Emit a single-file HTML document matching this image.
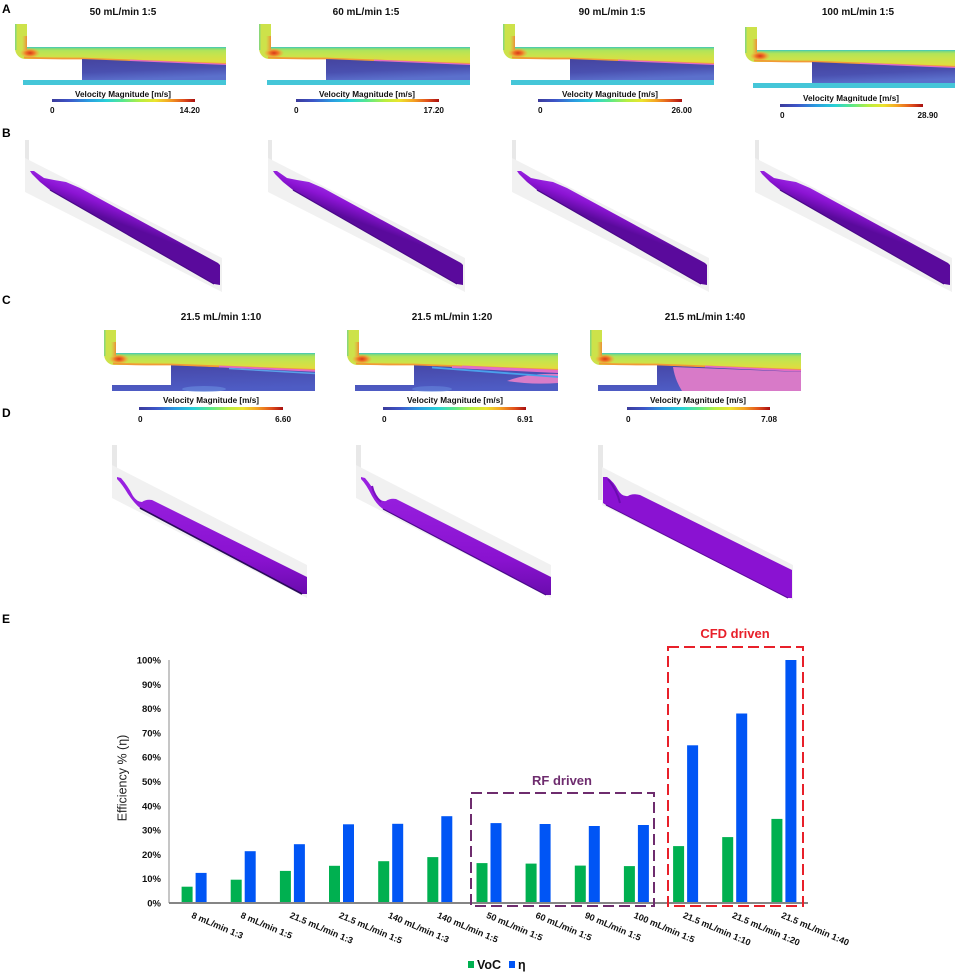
<!DOCTYPE html>
<html><head><meta charset="utf-8"><style>
html,body{margin:0;padding:0;background:#fff}
svg{display:block}
text{font-family:"Liberation Sans",Arial,sans-serif}
.b{font-weight:bold}
</style></head><body>
<svg width="955" height="972" viewBox="0 0 955 972" xmlns="http://www.w3.org/2000/svg">
<defs>
<linearGradient id="cmap" x1="0" y1="0" x2="1" y2="0">
<stop offset="0" stop-color="#3b3b9b"/><stop offset="0.12" stop-color="#3d55c8"/><stop offset="0.25" stop-color="#2a9be0"/><stop offset="0.38" stop-color="#28d0d8"/><stop offset="0.5" stop-color="#5ae88a"/><stop offset="0.62" stop-color="#b8ee40"/><stop offset="0.72" stop-color="#ebe52e"/><stop offset="0.82" stop-color="#f5a423"/><stop offset="0.92" stop-color="#e0501c"/><stop offset="1" stop-color="#a80f10"/>
</linearGradient>
<linearGradient id="gCh" gradientUnits="userSpaceOnUse" x1="0" y1="47" x2="0" y2="65">
<stop offset="0" stop-color="#38c4c8"/><stop offset="0.07" stop-color="#7ad880"/><stop offset="0.2" stop-color="#b2e558"/><stop offset="0.5" stop-color="#cbe34a"/><stop offset="0.8" stop-color="#dedd40"/><stop offset="1" stop-color="#ecc43a"/>
</linearGradient>
<radialGradient id="gHot">
<stop offset="0" stop-color="#d83818"/><stop offset="0.45" stop-color="#f07a28"/><stop offset="0.8" stop-color="#f0a838" stop-opacity="0.5"/><stop offset="1" stop-color="#f0a838" stop-opacity="0"/>
</radialGradient>
<linearGradient id="gPipe" x1="0" y1="0" x2="1" y2="0">
<stop offset="0" stop-color="#f0a040" stop-opacity="0"/><stop offset="1" stop-color="#f08030" stop-opacity="0.85"/>
</linearGradient>
<linearGradient id="gBlue" x1="0" y1="0" x2="0.3" y2="1">
<stop offset="0" stop-color="#45449f"/><stop offset="0.6" stop-color="#4a50b0"/><stop offset="1" stop-color="#5b70cc"/>
</linearGradient>
<linearGradient id="gBlueC" x1="0" y1="0" x2="0.2" y2="1">
<stop offset="0" stop-color="#4646a6"/><stop offset="1" stop-color="#4e5cc4"/>
</linearGradient>
<linearGradient id="gPur" gradientUnits="userSpaceOnUse" x1="130" y1="200" x2="121" y2="224">
<stop offset="0" stop-color="#a232ea"/><stop offset="0.5" stop-color="#8c14d4"/><stop offset="1" stop-color="#5a0a9c"/>
</linearGradient>
<linearGradient id="gPurD" x1="0" y1="0" x2="0" y2="1">
<stop offset="0" stop-color="#9a22e2"/><stop offset="0.7" stop-color="#8a12d0"/><stop offset="1" stop-color="#6a0cae"/>
</linearGradient>

<g id="up">
 <path d="M15,24 H27 V47 H226 V65 L82,59 L25,59 A10,11 0 0 1 15,48 Z" fill="#cde24a"/>
 <polygon points="27,47 226,47 226,65 82,59 27,59" fill="url(#gCh)"/>
 <rect x="15" y="24" width="1.5" height="26" fill="#8ad878"/>
 <rect x="22" y="36" width="5" height="14" fill="url(#gPipe)"/>
 <ellipse cx="30" cy="53" rx="10" ry="5" fill="url(#gHot)"/>
 <path d="M24,57.5 Q40,58.5 82,58.5 L226,64" stroke="#f29a35" stroke-width="1.8" fill="none"/>
 <path d="M130,60.5 L226,64.8" stroke="#e46cc4" stroke-width="1.8" fill="none"/>
</g>
<g id="lowA">
 <rect x="23" y="80" width="203" height="5" fill="#45c6d8"/>
 <polygon points="82,59 226,65 226,80 82,80" fill="url(#gBlue)"/>
</g>
<g id="bs">
 <rect x="25" y="140" width="4" height="50" fill="#e8e8e8"/>
 <polygon points="25,158 222,258 222,292 25,192" fill="#f1f1f1"/>
 <polygon points="30,171 34,171 44,178 54,180 66,182 80,188 218,263 220,265 220,285 214,284 50,190 40,182 32,174" fill="url(#gPur)"/>
 <path d="M50,190 L214,284" stroke="#4a0888" stroke-width="1.2"/>
</g>
</defs>

<rect width="955" height="972" fill="#fff"/>

<!-- Panel letters -->
<text class="b" x="2" y="13" font-size="12">A</text>
<text class="b" x="2" y="137" font-size="12">B</text>
<text class="b" x="2" y="304" font-size="12">C</text>
<text class="b" x="2" y="417" font-size="12">D</text>
<text class="b" x="2" y="623" font-size="12">E</text>

<!-- Panel A -->
<g font-size="10" class="b" text-anchor="middle" fill="#111">
<text x="123" y="15">50 mL/min 1:5</text>
<text x="366" y="15">60 mL/min 1:5</text>
<text x="612" y="15">90 mL/min 1:5</text>
<text x="858" y="15">100 mL/min 1:5</text>
</g>
<use href="#up"/><use href="#lowA"/>
<use href="#up" transform="translate(244,0)"/><use href="#lowA" transform="translate(244,0)"/>
<use href="#up" transform="translate(488,0)"/><use href="#lowA" transform="translate(488,0)"/>
<use href="#up" transform="translate(730,3)"/><use href="#lowA" transform="translate(730,3)"/>

<rect x="52" y="99" width="143" height="3" fill="url(#cmap)"/>
<rect x="296" y="99" width="143" height="3" fill="url(#cmap)"/>
<rect x="538" y="99" width="144" height="3" fill="url(#cmap)"/>
<rect x="780" y="104" width="143" height="3" fill="url(#cmap)"/>
<g font-size="8.2" class="b" fill="#111">
<text x="123" y="97" text-anchor="middle">Velocity Magnitude [m/s]</text>
<text x="367" y="97" text-anchor="middle">Velocity Magnitude [m/s]</text>
<text x="610" y="97" text-anchor="middle">Velocity Magnitude [m/s]</text>
<text x="851" y="101" text-anchor="middle">Velocity Magnitude [m/s]</text>
<text x="50" y="113">0</text><text x="200" y="113" text-anchor="end">14.20</text>
<text x="294" y="113">0</text><text x="444" y="113" text-anchor="end">17.20</text>
<text x="538" y="113">0</text><text x="692" y="113" text-anchor="end">26.00</text>
<text x="780" y="118">0</text><text x="938" y="118" text-anchor="end">28.90</text>
</g>

<!-- Panel B -->
<use href="#bs"/>
<use href="#bs" transform="translate(243,0)"/>
<use href="#bs" transform="translate(487,0)"/>
<use href="#bs" transform="translate(730,0)"/>

<!-- Panel C -->
<g font-size="10" class="b" text-anchor="middle" fill="#111">
<text x="221" y="320">21.5 mL/min 1:10</text>
<text x="452" y="320">21.5 mL/min 1:20</text>
<text x="705" y="320">21.5 mL/min 1:40</text>
</g>
<g transform="translate(89,306)">
 <path d="M23,79 H82 V58.5 L226,64.5 V85 H23 Z" fill="url(#gBlueC)"/>
 <ellipse cx="115" cy="83" rx="22" ry="3" fill="#6a8ee0" opacity="0.6"/>
 <use href="#up"/>
 <path d="M140,62.5 L226,67.5" stroke="#5aa0e8" stroke-width="1.5"/>
</g>
<g transform="translate(332,306)">
 <path d="M23,79 H82 V58.5 L226,64.5 V85 H23 Z" fill="url(#gBlueC)"/>
 <ellipse cx="100" cy="83" rx="20" ry="3" fill="#6a8ee0" opacity="0.5"/>
 <path d="M175,75 Q195,67 226,68 V77 Q200,79 175,75 Z" fill="#d87cc8"/>
 <use href="#up"/>
 <path d="M100,61.5 L226,71" stroke="#4aa0ec" stroke-width="1.8"/>
 <path d="M120,61 L226,66" stroke="#e070c8" stroke-width="2"/>
</g>
<g transform="translate(575,306)">
 <path d="M23,79 H82 V58.5 L226,64.5 V85 H23 Z" fill="url(#gBlueC)"/>
 <path d="M98,61 L226,66 V85 H107 Q100,74 98,61 Z" fill="#d87ac8"/>
 <use href="#up"/>
</g>
<rect x="139" y="407" width="144" height="3" fill="url(#cmap)"/>
<rect x="383" y="407" width="143" height="3" fill="url(#cmap)"/>
<rect x="627" y="407" width="143" height="3" fill="url(#cmap)"/>
<g font-size="8.2" class="b" fill="#111">
<text x="211" y="403" text-anchor="middle">Velocity Magnitude [m/s]</text>
<text x="455" y="403" text-anchor="middle">Velocity Magnitude [m/s]</text>
<text x="698" y="403" text-anchor="middle">Velocity Magnitude [m/s]</text>
<text x="138" y="422">0</text><text x="291" y="422" text-anchor="end">6.60</text>
<text x="382" y="422">0</text><text x="533" y="422" text-anchor="end">6.91</text>
<text x="626" y="422">0</text><text x="777" y="422" text-anchor="end">7.08</text>
</g>

<!-- Panel D -->
<rect x="112" y="445" width="5" height="50" fill="#e8e8e8"/>
<polygon points="112,465 307,565 307,598 112,498" fill="#f1f1f1"/>
<path d="M117,477 L121,478 Q128,486 133,496 Q137,502 142,502 Q146,499 152,500 L307,577 L307,594 L302,594 L140,508 Q134,503 128,494 Q122,484 117,479 Z" fill="url(#gPurD)"/>
<path d="M140,508 L302,594" stroke="#2a0a5a" stroke-width="1.6"/>

<rect x="356" y="445" width="5" height="50" fill="#e8e8e8"/>
<polygon points="356,465 551,565 551,598 356,498" fill="#f1f1f1"/>
<path d="M361,477 L365,478 Q372,486 377,496 Q381,502 386,501 Q390,498 396,499 L551,577 L551,595 L546,595 L383,509 Q377,505 372,496 Q366,484 361,479 Z" fill="url(#gPurD)"/>
<path d="M372,486 Q374,496 381,502" stroke="#7a10c0" stroke-width="2" fill="none"/>
<path d="M383,509 L546,595" stroke="#4a0a8a" stroke-width="1.2"/>

<rect x="598" y="445" width="5" height="55" fill="#e8e8e8"/>
<polygon points="602,467 793,565 793,600 602,505" fill="#f1f1f1"/>
<path d="M603,477 L607,477 Q614,482 618,490 Q622,497 628,496 Q632,493 640,495 L792,570 L792,598 L788,598 L606,505 L603,503 Z" fill="#8a12d2"/>
<path d="M608,479 Q617,490 620,503" stroke="#6a0cb0" stroke-width="2" fill="none"/>
<path d="M606,505 L788,598" stroke="#5a0a9a" stroke-width="1"/>

<!-- Panel E chart -->
<line x1="169" y1="660" x2="169" y2="903" stroke="#a0a0a0" stroke-width="1.2"/>
<g font-size="9.5" class="b" text-anchor="end" fill="#111">
<text x="161" y="906.5">0%</text>
<text x="161" y="882.2">10%</text>
<text x="161" y="857.9">20%</text>
<text x="161" y="833.6">30%</text>
<text x="161" y="809.3">40%</text>
<text x="161" y="785">50%</text>
<text x="161" y="760.7">60%</text>
<text x="161" y="736.4">70%</text>
<text x="161" y="712.1">80%</text>
<text x="161" y="687.8">90%</text>
<text x="161" y="663.5">100%</text>
</g>
<text transform="translate(126.5,778) rotate(-90)" text-anchor="middle" font-size="12.5" fill="#222">Efficiency % (η)</text>

<g fill="#00b050">
<rect x="181.6" y="886.7" width="11" height="16.3"/>
<rect x="230.7" y="879.7" width="11" height="23.3"/>
<rect x="279.9" y="870.9" width="11" height="32.1"/>
<rect x="329" y="865.8" width="11" height="37.2"/>
<rect x="378.2" y="861.2" width="11" height="41.8"/>
<rect x="427.3" y="857.1" width="11" height="45.9"/>
<rect x="476.5" y="863.1" width="11" height="39.9"/>
<rect x="525.6" y="863.6" width="11" height="39.4"/>
<rect x="574.8" y="865.6" width="11" height="37.4"/>
<rect x="623.9" y="866.1" width="11" height="36.9"/>
<rect x="673.1" y="846.1" width="11" height="56.9"/>
<rect x="722.2" y="837.1" width="11" height="65.9"/>
<rect x="771.4" y="818.9" width="11" height="84.1"/>
</g>
<g fill="#0055f5">
<rect x="195.6" y="872.9" width="11" height="30.1"/>
<rect x="244.7" y="851.2" width="11" height="51.8"/>
<rect x="293.9" y="844.2" width="11" height="58.8"/>
<rect x="343" y="824.3" width="11" height="78.7"/>
<rect x="392.2" y="823.8" width="11" height="79.2"/>
<rect x="441.3" y="816.2" width="11" height="86.8"/>
<rect x="490.5" y="823.1" width="11" height="79.9"/>
<rect x="539.6" y="824" width="11" height="79"/>
<rect x="588.8" y="826" width="11" height="77"/>
<rect x="637.9" y="825" width="11" height="78"/>
<rect x="687.1" y="745.3" width="11" height="157.7"/>
<rect x="736.2" y="713.5" width="11" height="189.5"/>
<rect x="785.4" y="660" width="11" height="243"/>
</g>
<line x1="169" y1="903" x2="808" y2="903" stroke="#858585" stroke-width="2"/>

<rect x="471" y="793" width="183" height="113" fill="none" stroke="#6e2c6e" stroke-width="2" stroke-dasharray="11 5"/>
<rect x="668" y="647" width="135" height="259" fill="none" stroke="#e8202a" stroke-width="2" stroke-dasharray="11 5"/>
<text x="562" y="785" text-anchor="middle" font-size="13" class="b" fill="#6e2c6e">RF driven</text>
<text x="735" y="638" text-anchor="middle" font-size="13" class="b" fill="#e8202a">CFD driven</text>

<g font-size="9" class="b" fill="#111">
<text transform="translate(193.6,911) rotate(23)" y="7">8 mL/min 1:3</text>
<text transform="translate(242.7,911) rotate(23)" y="7">8 mL/min 1:5</text>
<text transform="translate(291.9,911) rotate(23)" y="7">21.5 mL/min 1:3</text>
<text transform="translate(341,911) rotate(23)" y="7">21.5 mL/min 1:5</text>
<text transform="translate(390.2,911) rotate(23)" y="7">140 mL/min 1:3</text>
<text transform="translate(439.3,911) rotate(23)" y="7">140 mL/min 1:5</text>
<text transform="translate(488.5,911) rotate(23)" y="7">50 mL/min 1:5</text>
<text transform="translate(537.6,911) rotate(23)" y="7">60 mL/min 1:5</text>
<text transform="translate(586.8,911) rotate(23)" y="7">90 mL/min 1:5</text>
<text transform="translate(635.9,911) rotate(23)" y="7">100 mL/min 1:5</text>
<text transform="translate(685.1,911) rotate(23)" y="7">21.5 mL/min 1:10</text>
<text transform="translate(734.2,911) rotate(23)" y="7">21.5 mL/min 1:20</text>
<text transform="translate(783.4,911) rotate(23)" y="7">21.5 mL/min 1:40</text>
</g>

<rect x="468" y="961" width="6" height="7" fill="#00b050"/>
<text x="477" y="969" font-size="12.5" class="b" fill="#111">VoC</text>
<rect x="509" y="961" width="6" height="7" fill="#0055f5"/>
<text x="518" y="969" font-size="12.5" class="b" fill="#111">η</text>
</svg>
</body></html>
